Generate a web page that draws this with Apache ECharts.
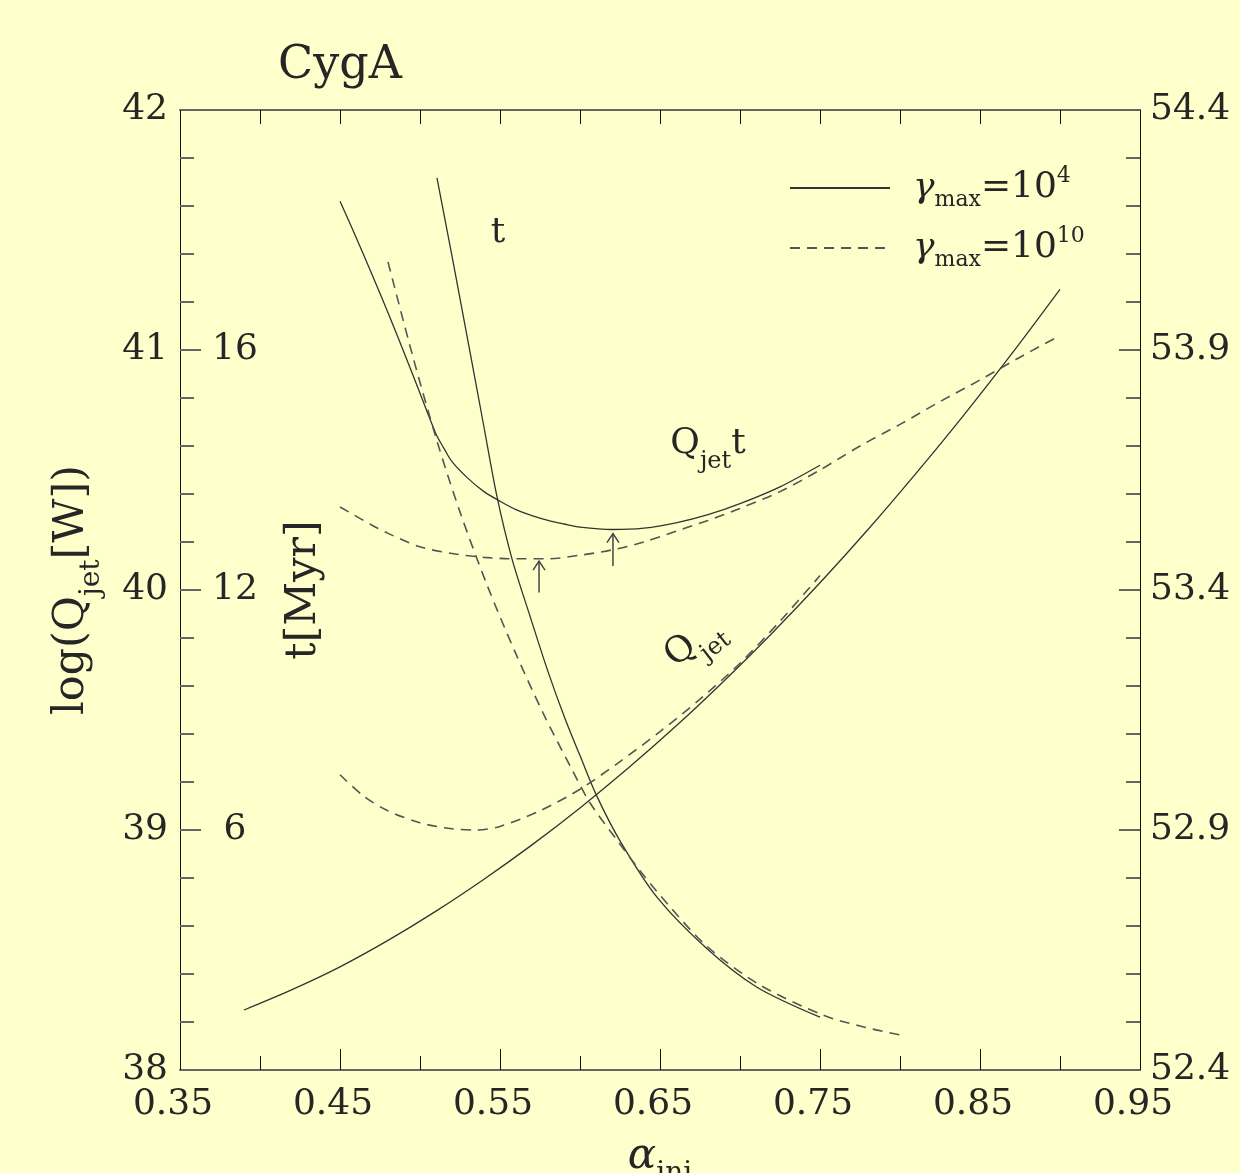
<!DOCTYPE html>
<html><head><meta charset="utf-8">
<script src="https://cdn.jsdelivr.net/npm/echarts@6/dist/echarts.min.js"></script>
<style>html,body{margin:0;padding:0;background:#ffffcc;}#c{width:1240px;height:1173px;}</style>
</head><body><div id="c"></div>
<script>
// ---------- data (alpha_inj, value) ----------
const solidQjet = [[0.39,38.25],[0.42,38.335],[0.45,38.43],[0.48,38.54],[0.51,38.662],[0.54,38.795],[0.57,38.938],[0.60,39.092],[0.63,39.257],[0.66,39.433],[0.69,39.621],[0.72,39.82],[0.75,40.03],[0.78,40.252],[0.81,40.486],[0.84,40.73],[0.87,40.986],[0.90,41.253]];
const dashedQjet = [[0.450,39.23],[0.465,39.14],[0.480,39.08],[0.500,39.03],[0.520,39.005],[0.535,39.00],[0.550,39.015],[0.575,39.08],[0.600,39.17],[0.625,39.285],[0.650,39.41],[0.675,39.545],[0.700,39.695],[0.725,39.87],[0.750,40.06]];
const solidT = [[0.5106,41.717],[0.5206,41.37],[0.5313,40.99],[0.5394,40.70],[0.5481,40.39],[0.5575,40.13],[0.5688,39.89],[0.580,39.66],[0.5906,39.465],[0.600,39.31],[0.6106,39.14],[0.625,38.955],[0.6481,38.72],[0.6794,38.505],[0.7106,38.345],[0.750,38.22]];
const dashedT = [[0.480,41.367],[0.4956,40.971],[0.5106,40.621],[0.525,40.325],[0.5419,40.021],[0.5594,39.742],[0.5769,39.4875],[0.5938,39.267],[0.6063,39.1125],[0.6231,38.958],[0.6375,38.83],[0.65625,38.68],[0.6794,38.515],[0.7125,38.354],[0.7519,38.229],[0.775,38.183],[0.800,38.146]];
// Q_jet t curves, right-axis units
const solidQjetT = [[0.45,54.21],[0.46,54.135],[0.47,54.0575],[0.48,53.9775],[0.49,53.895],[0.50,53.81],[0.51,53.725],[0.515,53.695],[0.52,53.6675],[0.53,53.6325],[0.54,53.605],[0.55,53.585],[0.56,53.5675],[0.57,53.555],[0.58,53.545],[0.59,53.5375],[0.60,53.531],[0.62,53.526],[0.64,53.529],[0.66,53.54],[0.68,53.557],[0.70,53.58],[0.725,53.615],[0.75,53.66]];
const dashedQjetT = [[0.45,53.573],[0.47,53.535],[0.48,53.518],[0.50,53.49],[0.52,53.476],[0.54,53.468],[0.56,53.465],[0.58,53.465],[0.60,53.4725],[0.62,53.4835],[0.64,53.50],[0.66,53.5225],[0.68,53.545],[0.70,53.57],[0.725,53.605],[0.75,53.65],[0.775,53.70],[0.80,53.745],[0.825,53.7925],[0.85,53.8375],[0.875,53.885],[0.90,53.93]];
// arrows
const arrowAlpha = [0.5744, 0.6206];
const arrowBase = [39.99, 40.10];
const arrowTip = [40.12, 40.235];
// t axis tick labels
const tTickPos = [39, 40, 41];
const tTickLabels = ['6', '12', '16'];
// legend names
const legendNames = ['γmax=10^4', 'γmax=10^10'];
// annotations
const annoTexts = ['{m|t}', '{m|Q}{s|jet}{m|t}', '{m|Q}{s|jet}'];
const annoAnchors = [[0.5488, 41.465], [0.680, 40.583], [0.673, 39.765]];

// ---------- styling ----------
const FONT = 'DejaVu Serif';
const TXT = '#262626';
const LINE = '#333';
const DASH = '#555';
const richMain = {
  m: {fontFamily: FONT, fontSize: 36, color: TXT, lineHeight: 48, verticalAlign: 'top'},
  s: {fontFamily: FONT, fontSize: 24, color: TXT, lineHeight: 24, verticalAlign: 'bottom'},
  i: {fontFamily: FONT, fontSize: 40, fontStyle: 'italic', color: TXT, lineHeight: 48, verticalAlign: 'top'}
};
const richName = {
  m: {fontFamily: FONT, fontSize: 43, color: TXT, lineHeight: 56, verticalAlign: 'top'},
  s: {fontFamily: FONT, fontSize: 28, color: TXT, lineHeight: 28, verticalAlign: 'bottom'},
  i: {fontFamily: FONT, fontSize: 42, fontStyle: 'italic', color: TXT, lineHeight: 52, verticalAlign: 'top'}
};
const vLine = {color: '#111', width: 1};
const hLine = {color: '#666', width: 2};

const chart = echarts.init(document.getElementById('c'), null, {renderer: 'canvas'});

function lineSeries(name, data, dashed, yIdx) {
  return {
    type: 'line', name: name, data: data, yAxisIndex: yIdx || 0, xAxisIndex: 0,
    symbol: 'none', smooth: 0.3, silent: true, z: 3,
    itemStyle: {color: dashed ? DASH : LINE},
    lineStyle: dashed ? {color: DASH, width: 1.6, type: [10, 7]} : {color: LINE, width: 1.3}
  };
}

const option = {
  backgroundColor: '#ffffcc',
  animation: false,
  title: {
    text: 'CygA', left: 278, top: 43, padding: 0,
    textStyle: {fontFamily: FONT, fontSize: 46, fontWeight: 'normal', color: TXT}
  },
  grid: {left: 180, top: 110, width: 960, height: 960, containLabel: false, outerBoundsMode: 'none'},
  legend: {
    data: legendNames, orient: 'vertical', left: 784, top: 160,
    itemWidth: 100, itemHeight: 20, itemGap: 14,
    itemStyle: {opacity: 0},
    formatter: function (n) {
      return n === legendNames[0] ? '{g|γ}{s|max}{e|=10}{p|4}' : '{g|γ}{s|max}{e|=10}{p|10}';
    },
    textStyle: {
      padding: [0, 0, 0, 18],
      rich: {
        g: {fontFamily: FONT, fontSize: 36, fontStyle: 'italic', color: TXT, lineHeight: 46, verticalAlign: 'middle'},
        s: {fontFamily: FONT, fontSize: 22, color: TXT, lineHeight: 22, verticalAlign: 'bottom'},
        e: {fontFamily: FONT, fontSize: 36, color: TXT, lineHeight: 46, verticalAlign: 'middle'},
        p: {fontFamily: FONT, fontSize: 22, color: TXT, lineHeight: 22, verticalAlign: 'top'}
      }
    }
  },
  xAxis: [
    {
      type: 'value', position: 'bottom', min: 0.35, max: 0.95, interval: 0.1,
      axisLine: {show: true, lineStyle: hLine},
      axisTick: {show: true, inside: true, length: 21, lineStyle: vLine},
      minorTick: {show: true, splitNumber: 2, length: 14, lineStyle: vLine},
      splitLine: {show: false}, minorSplitLine: {show: false},
      axisLabel: {margin: 17, padding: [0, 14, 0, 0], fontFamily: FONT, fontSize: 36, color: TXT, formatter: v => v.toFixed(2)},
      name: '{i|α}{s|ini}', nameLocation: 'middle', nameGap: 66,
      nameTextStyle: {rich: richName}
    },
    {
      type: 'value', position: 'top', min: 0.35, max: 0.95, interval: 0.05,
      axisLine: {show: true, lineStyle: hLine},
      axisTick: {show: true, inside: true, length: 14, lineStyle: vLine},
      splitLine: {show: false}, axisLabel: {show: false}
    }
  ],
  yAxis: [
    {
      type: 'value', position: 'left', min: 38, max: 42, interval: 1,
      axisLine: {show: true, lineStyle: vLine},
      axisTick: {show: true, inside: true, length: 21, lineStyle: hLine},
      minorTick: {show: true, splitNumber: 5, length: 14, lineStyle: hLine},
      splitLine: {show: false}, minorSplitLine: {show: false},
      axisLabel: {margin: 12, fontFamily: FONT, fontSize: 36, color: TXT},
      name: '{m|log(Q}{s|jet}{m|[W])}', nameLocation: 'middle', nameRotate: 90, nameGap: 74,
      nameTextStyle: {rich: richName}
    },
    {
      type: 'value', position: 'left', min: 38, max: 42, interval: 1,
      axisLine: {show: false}, axisTick: {show: false}, splitLine: {show: false},
      axisLabel: {
        inside: true, margin: 55, align: 'center', fontFamily: FONT, fontSize: 36, color: TXT,
        formatter: v => { const k = tTickPos.indexOf(Math.round(v)); return k >= 0 ? tTickLabels[k] : ''; }
      },
      name: '{m|t[Myr]}', nameLocation: 'middle', nameRotate: 90, nameGap: -158,
      nameTextStyle: {rich: richName}
    },
    {
      type: 'value', position: 'right', min: 52.4, max: 54.4, interval: 0.5,
      axisLine: {show: true, lineStyle: vLine},
      axisTick: {show: true, inside: true, length: 21, lineStyle: hLine},
      minorTick: {show: true, splitNumber: 5, length: 14, lineStyle: hLine},
      splitLine: {show: false}, minorSplitLine: {show: false},
      axisLabel: {margin: 10, fontFamily: FONT, fontSize: 36, color: TXT, formatter: v => v.toFixed(1)},
      name: '{m|log(Q}{s|jet}{m|t[J])}', nameLocation: 'middle', nameRotate: 90, nameGap: 92,
      nameTextStyle: {rich: richName}
    }
  ],
  series: [
    lineSeries(legendNames[0], solidQjet, false, 0),
    lineSeries(legendNames[0], solidT, false, 0),
    lineSeries(legendNames[0], solidQjetT, false, 2),
    lineSeries(legendNames[1], dashedQjet, true, 0),
    lineSeries(legendNames[1], dashedT, true, 0),
    lineSeries(legendNames[1], dashedQjetT, true, 2),
    {
      type: 'custom', name: 'arrows', xAxisIndex: 0, yAxisIndex: 0, silent: true, z: 4,
      data: arrowAlpha.map((a, i) => [a, arrowBase[i], arrowTip[i]]),
      renderItem: function (params, api) {
        const p0 = api.coord([api.value(0), api.value(1)]);
        const p1 = api.coord([api.value(0), api.value(2)]);
        return {
          type: 'group', children: [
            {type: 'line', shape: {x1: p0[0], y1: p0[1], x2: p1[0], y2: p1[1]}, style: {stroke: '#444', lineWidth: 1.5}},
            {type: 'polyline', shape: {points: [[p1[0] - 6, p1[1] + 9], [p1[0], p1[1]], [p1[0] + 6, p1[1] + 9]]}, style: {stroke: '#444', lineWidth: 1.5, fill: null}}
          ]
        };
      }
    },
    {
      type: 'scatter', name: 'labels', xAxisIndex: 0, yAxisIndex: 0, silent: true, z: 5,
      symbolSize: 1, itemStyle: {color: 'transparent', opacity: 1},
      data: annoAnchors.map((p, i) => ({
        value: p,
        label: {
          show: true, position: 'inside', formatter: annoTexts[i], rotate: i === 2 ? 38 : 0,
          color: TXT, opacity: 1, textBorderWidth: 0, textShadowBlur: 0, rich: richMain
        }
      }))
    }
  ]
};
chart.setOption(option);
</script>
</body></html>
